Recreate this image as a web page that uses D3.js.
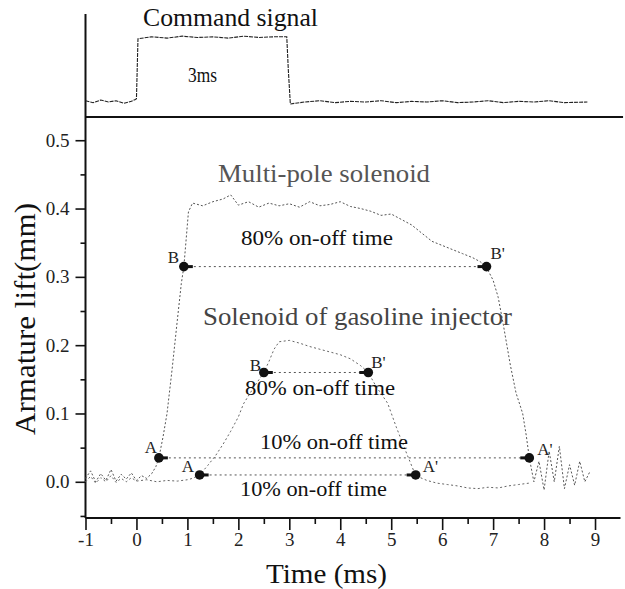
<!DOCTYPE html>
<html>
<head>
<meta charset="utf-8">
<script src="https://cdn.jsdelivr.net/npm/d3@7"></script>
<style>
  html, body { margin: 0; padding: 0; background: #fff; }
  svg { display: block; font-family: "Liberation Serif", "Times New Roman", serif; }
</style>
</head>
<body>
<div id="chart"></div>
<script>
// command pulse, upper panel (arbitrary units, 0 = off, 1 = on)
const commandTrace = [
  [-1.0, 0.02], [-0.85, -0.01], [-0.7, 0.03], [-0.55, 0.0], [-0.4, 0.02], [-0.25, -0.02],
  [-0.1, 0.01], [-0.02, 0.04], [0.0, 0.05], [0.03, 0.97], [0.3, 1.0], [0.6, 0.98],
  [0.9, 1.01], [1.2, 0.99], [1.5, 1.0], [1.8, 0.98], [2.1, 1.01], [2.4, 0.99],
  [2.7, 1.0], [2.95, 1.0], [2.98, 0.5], [3.02, -0.03], [3.3, 0.0], [3.6, 0.02],
  [3.9, -0.01], [4.2, 0.01], [4.5, 0.0], [4.8, 0.02], [5.1, -0.01], [5.4, 0.01],
  [5.7, 0.0], [6.0, 0.02], [6.3, -0.01], [6.6, 0.0], [6.9, 0.02], [7.2, -0.01],
  [7.5, 0.01], [7.8, 0.0], [8.1, 0.02], [8.4, -0.01], [8.85, 0.0]
];

// armature lift (mm) of the multi-pole solenoid
const multiPoleTrace = [
  [-1.0, 0.005], [-0.9, 0.016], [-0.8, 0.0], [-0.7, 0.012], [-0.6, 0.002], [-0.5, 0.018],
  [-0.4, 0.001], [-0.3, 0.011], [-0.2, 0.004], [-0.1, 0.013], [0.0, 0.002], [0.1, 0.009],
  [0.2, 0.005], [0.3, 0.012], [0.38, 0.022], [0.44, 0.035], [0.52, 0.065], [0.6, 0.1],
  [0.7, 0.165], [0.8, 0.235], [0.88, 0.29], [0.93, 0.315], [0.97, 0.35], [1.02, 0.395],
  [1.1, 0.408], [1.3, 0.404], [1.5, 0.41], [1.7, 0.414], [1.85, 0.42], [2.0, 0.405],
  [2.2, 0.41], [2.4, 0.402], [2.6, 0.408], [2.8, 0.404], [3.0, 0.407], [3.2, 0.402],
  [3.4, 0.41], [3.6, 0.404], [3.8, 0.406], [4.0, 0.41], [4.2, 0.403], [4.4, 0.4],
  [4.6, 0.396], [4.8, 0.39], [5.0, 0.392], [5.2, 0.384], [5.4, 0.376], [5.6, 0.364],
  [5.8, 0.352], [6.0, 0.346], [6.2, 0.34], [6.4, 0.334], [6.6, 0.328], [6.75, 0.322],
  [6.87, 0.314], [7.0, 0.295], [7.1, 0.27], [7.2, 0.23], [7.34, 0.17], [7.45, 0.13],
  [7.58, 0.1], [7.65, 0.068], [7.71, 0.035], [7.8, 0.0], [7.9, 0.03], [8.0, -0.012],
  [8.1, 0.045], [8.2, 0.0], [8.3, 0.052], [8.4, -0.01], [8.5, 0.025], [8.6, -0.005],
  [8.7, 0.03], [8.8, 0.0], [8.9, 0.015]
];

// armature lift (mm) of the gasoline injector solenoid
const injectorTrace = [
  [-1.0, 0.0], [-0.9, 0.008], [-0.8, -0.002], [-0.7, 0.006], [-0.6, 0.0], [-0.5, 0.009],
  [-0.4, -0.001], [-0.3, 0.005], [-0.2, 0.0], [-0.1, 0.006], [0.0, 0.001], [0.2, 0.003],
  [0.4, 0.0], [0.6, 0.002], [0.8, 0.001], [1.0, 0.003], [1.1, 0.005], [1.24, 0.01],
  [1.4, 0.024], [1.55, 0.038], [1.7, 0.055], [1.85, 0.074], [2.0, 0.095], [2.1, 0.114],
  [2.3, 0.138], [2.5, 0.16], [2.6, 0.176], [2.7, 0.194], [2.8, 0.205], [3.0, 0.207],
  [3.2, 0.203], [3.4, 0.198], [3.6, 0.194], [3.8, 0.19], [4.0, 0.186], [4.2, 0.18],
  [4.4, 0.17], [4.55, 0.16], [4.7, 0.14], [4.93, 0.115], [5.1, 0.08], [5.3, 0.042],
  [5.48, 0.009], [5.7, 0.002], [5.9, -0.002], [6.1, -0.004], [6.3, -0.006], [6.5, -0.009],
  [6.7, -0.01], [6.9, -0.008], [7.1, -0.009], [7.3, -0.006], [7.5, -0.004], [7.7, -0.002]
];

// on-off time markers: start / end time (ms) and lift level (mm)
const markerStart = [0.93, 2.5, 0.44, 1.24];
const markerEnd = [6.87, 4.55, 7.71, 5.48];
const markerLift = [0.315, 0.16, 0.035, 0.01];
const markerStartLabel = ["B", "B", "A", "A"];
const markerEndLabel = ["B'", "B'", "A'", "A'"];

const xTicks = [-1, 0, 1, 2, 3, 4, 5, 6, 7, 8, 9];
const xTickLabels = ["-1", "0", "1", "2", "3", "4", "5", "6", "7", "8", "9"];
const xMinorTicks = [-0.5, 0.5, 1.5, 2.5, 3.5, 4.5, 5.5, 6.5, 7.5, 8.5];
const yTicks = [0, 0.1, 0.2, 0.3, 0.4, 0.5];
const yTickLabels = ["0.0", "0.1", "0.2", "0.3", "0.4", "0.5"];
const yMinorTicks = [-0.05, 0.05, 0.15, 0.25, 0.35, 0.45];

const width = 625, height = 589;
const serif = "'Liberation Serif', 'Times New Roman', serif";

const svg = d3.select("#chart").append("svg")
  .attr("width", width)
  .attr("height", height);

svg.append("rect").attr("width", width).attr("height", height).attr("fill", "#fff");

const x = d3.scaleLinear().domain([-1, 9.5]).range([85.5, 620.5]);
const y = d3.scaleLinear().domain([-0.053, 0.534]).range([518, 117]);
const yCmd = d3.scaleLinear().domain([-0.23, 1.35]).range([117, 14]);

const ink = "#111";

// axes
svg.append("g")
  .attr("transform", `translate(0,${y.range()[0]})`)
  .call(d3.axisBottom(x).tickValues(xTicks)
    .tickFormat((d, i) => xTickLabels[i])
    .tickSize(12).tickSizeOuter(0).tickPadding(3));
svg.append("g")
  .attr("transform", `translate(0,${y.range()[0]})`)
  .call(d3.axisBottom(x).tickValues(xMinorTicks).tickFormat("").tickSize(6).tickSizeOuter(0));

svg.append("g")
  .attr("transform", `translate(${x(-1)},0)`)
  .call(d3.axisLeft(y).tickValues(yTicks)
    .tickFormat((d, i) => yTickLabels[i])
    .tickSize(10).tickSizeOuter(0).tickPadding(6));
svg.append("g")
  .attr("transform", `translate(${x(-1)},0)`)
  .call(d3.axisLeft(y).tickValues(yMinorTicks).tickFormat("").tickSize(5).tickSizeOuter(0));

svg.selectAll(".domain").remove();
svg.selectAll(".tick").select("line").attr("stroke", ink).attr("stroke-width", 1.6);
svg.selectAll(".tick").select("text")
  .attr("fill", "#222")
  .attr("font-family", serif)
  .attr("font-size", 19)
  .style("font-family", serif)
  .style("font-size", "19px");

// frame lines: left spine through both panels, bottom axis, panel divider
svg.append("line")
  .attr("x1", x(-1)).attr("x2", x(-1))
  .attr("y1", yCmd.range()[1]).attr("y2", y.range()[0])
  .attr("stroke", ink).attr("stroke-width", 2);
svg.append("line")
  .attr("x1", x(-1)).attr("x2", x(9.5))
  .attr("y1", y.range()[0]).attr("y2", y.range()[0])
  .attr("stroke", ink).attr("stroke-width", 2);
svg.append("line")
  .attr("x1", x(-1)).attr("x2", x(9.55))
  .attr("y1", y.range()[1]).attr("y2", y.range()[1])
  .attr("stroke", ink).attr("stroke-width", 2);

// traces
const cmdLine = d3.line().x(d => x(d[0])).y(d => yCmd(d[1]));
const liftLine = d3.line().x(d => x(d[0])).y(d => y(d[1]));

svg.append("path")
  .datum(commandTrace)
  .attr("d", cmdLine)
  .attr("fill", "none")
  .attr("stroke", "#222")
  .attr("stroke-width", 1.1)
  .attr("stroke-dasharray", "4,1");

svg.append("path")
  .datum(multiPoleTrace)
  .attr("d", liftLine)
  .attr("fill", "none")
  .attr("stroke", "#555")
  .attr("stroke-width", 1)
  .attr("stroke-dasharray", "2,2");

svg.append("path")
  .datum(injectorTrace)
  .attr("d", liftLine)
  .attr("fill", "none")
  .attr("stroke", "#666")
  .attr("stroke-width", 1)
  .attr("stroke-dasharray", "2,2.5");

// on-off markers: dotted span, arrow stubs and dots at both ends
const labelOffsets = [
  { s: [-16, -4], e: [4, -8] },
  { s: [-14, -1], e: [3, -4] },
  { s: [-14, -5], e: [8, -3] },
  { s: [-18, -3], e: [7, -3] }
];

const markers = svg.append("g").attr("class", "markers");
markerStart.forEach((t0, i) => {
  const x0 = x(t0), x1 = x(markerEnd[i]), yy = y(markerLift[i]);
  const g = markers.append("g");
  g.append("line")
    .attr("x1", x0).attr("x2", x1).attr("y1", yy).attr("y2", yy)
    .attr("stroke", "#555").attr("stroke-width", 1)
    .attr("stroke-dasharray", "2,3");
  g.append("line")
    .attr("x1", x0).attr("x2", x0 + 9).attr("y1", yy).attr("y2", yy)
    .attr("stroke", ink).attr("stroke-width", 3);
  g.append("line")
    .attr("x1", x1 - 9).attr("x2", x1).attr("y1", yy).attr("y2", yy)
    .attr("stroke", ink).attr("stroke-width", 3);
  g.selectAll("circle").data([x0, x1]).join("circle")
    .attr("cx", d => d).attr("cy", yy).attr("r", 4.8).attr("fill", ink);
  g.append("text")
    .attr("x", x0 + labelOffsets[i].s[0]).attr("y", yy + labelOffsets[i].s[1])
    .attr("font-size", 17).attr("fill", "#222")
    .text(markerStartLabel[i]);
  g.append("text")
    .attr("x", x1 + labelOffsets[i].e[0]).attr("y", yy + labelOffsets[i].e[1])
    .attr("font-size", 17).attr("fill", "#222")
    .text(markerEndLabel[i]);
});

// text annotations
function label(text, px, py, size, len, fill) {
  return svg.append("text")
    .attr("x", px).attr("y", py)
    .attr("font-size", size)
    .attr("fill", fill || "#111")
    .attr("textLength", len)
    .attr("lengthAdjust", "spacingAndGlyphs")
    .text(text);
}

label("Command signal", 143, 26, 25, 175, "#111");
label("3ms", 188, 82, 21, 29, "#111");
label("Multi-pole solenoid", 218, 182, 26, 212, "#555");
label("80% on-off time", 241, 245, 21, 152, "#111");
label("Solenoid of gasoline injector", 203, 325, 25, 309, "#444");
label("80% on-off time", 245, 395, 21, 150, "#111");
label("10% on-off time", 260, 449, 21, 148, "#111");
label("10% on-off time", 240, 496, 21, 147, "#111");
label("Time (ms)", 266, 583, 27, 121, "#111");

svg.append("text")
  .attr("transform", "translate(35,319) rotate(-90)")
  .attr("text-anchor", "middle")
  .attr("font-size", 30)
  .attr("fill", "#111")
  .attr("textLength", 232)
  .attr("lengthAdjust", "spacingAndGlyphs")
  .text("Armature lift(mm)");
</script>
</body>
</html>
